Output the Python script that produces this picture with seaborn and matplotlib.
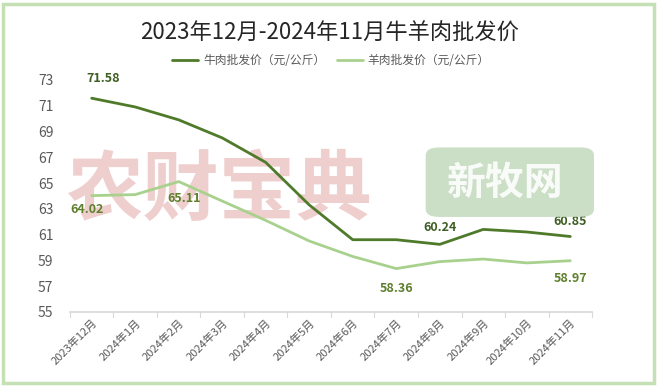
import matplotlib
matplotlib.use("Agg")
import matplotlib.pyplot as plt
from matplotlib.patches import FancyBboxPatch, Rectangle
import seaborn as sns
import pandas as pd

# data
months = ["2023年12月", "2024年1月", "2024年2月", "2024年3月", "2024年4月", "2024年5月",
          "2024年6月", "2024年7月", "2024年8月", "2024年9月", "2024年10月", "2024年11月"]
beef = [71.58, 70.9, 69.9, 68.5, 66.6, 63.3, 60.6, 60.6, 60.24, 61.4, 61.2, 60.85]
lamb = [64.02, 64.1, 65.11, 63.6, 62.1, 60.5, 59.3, 58.36, 58.9, 59.1, 58.8, 58.97]
beef_name = "牛肉批发价（元/公斤）"
lamb_name = "羊肉批发价（元/公斤）"

# labelled points: (index, dx_pt, dy_pt)
beef_labels = [(0, 8, 14), (8, 0, 12), (11, 0, 11)]
lamb_labels = [(0, -3, -10), (2, 4, -12), (7, 0, -14), (11, 0, -13)]

BEEF_C = "#4e7a2a"
LAMB_C = "#a9d18e"
BEEF_TXT = "#3d5f22"
LAMB_TXT = "#5e7f2c"

sns.set_theme(style="white")
plt.rcParams["font.family"] = ["Noto Sans CJK SC", "DejaVu Sans"]

df = pd.DataFrame({"月份": months * 2,
                   "价格": beef + lamb,
                   "品种": [beef_name] * len(months) + [lamb_name] * len(months)})

fig = plt.figure(figsize=(6.6, 3.86), dpi=100)
ax = fig.add_axes([0.106, 0.192, 0.791, 0.601])

# watermarks behind the data
ax.text(0.285, 0.52, "农财宝典", transform=ax.transAxes, fontsize=55, fontweight="bold",
        color="#d98c8c", alpha=0.42, ha="center", va="center", zorder=0)
fig.patches.append(FancyBboxPatch((0.65, 0.443), 0.245, 0.17,
                                  boxstyle="round,pad=0.005,rounding_size=0.02",
                                  transform=fig.transFigure, facecolor="#c6dbc0",
                                  edgecolor="none", alpha=0.9, zorder=0))
fig.text(0.765, 0.525, "新牧网", fontsize=28, fontweight="bold", color="white",
         ha="center", va="center", alpha=0.9)

sns.lineplot(data=df, x="月份", y="价格", hue="品种", palette=[BEEF_C, LAMB_C],
             linewidth=2, ax=ax, sort=False, zorder=3)

for i, dx, dy in beef_labels:
    ax.annotate(f"{beef[i]:.2f}", (i, beef[i]), xytext=(dx, dy), textcoords="offset points",
                ha="center", va="center", fontsize=9, fontweight="bold", color=BEEF_TXT, zorder=5)
for i, dx, dy in lamb_labels:
    ax.annotate(f"{lamb[i]:.2f}", (i, lamb[i]), xytext=(dx, dy), textcoords="offset points",
                ha="center", va="center", fontsize=9, fontweight="bold", color=LAMB_TXT, zorder=5)

ax.set_ylim(55, 73)
ax.set_yticks(range(55, 74, 2))
ax.set_xlim(-0.5, len(months) - 0.5)
ax.set_xlabel("")
ax.set_ylabel("")
for sp in ("top", "right", "left"):
    ax.spines[sp].set_visible(False)
ax.spines["bottom"].set_color("#d9d9d9")
ax.tick_params(axis="y", colors="#595959", labelsize=10, length=0, pad=12)
ax.set_xticks(range(len(months)))
ax.set_xticklabels(months, rotation=45, ha="right", rotation_mode="anchor",
                   fontsize=8, color="#595959")
ax.tick_params(axis="x", length=0, pad=4)
# category separator ticks
for k in range(len(months) + 1):
    ax.plot([k - 0.5, k - 0.5], [55, 54.6], color="#d9d9d9", lw=0.8, clip_on=False)

leg = ax.legend(loc="lower center", bbox_to_anchor=(0.5, 1.01), ncol=2, frameon=False,
                fontsize=8.5, handlelength=2.2, columnspacing=1.0, handletextpad=0.4)
for t in leg.get_texts():
    t.set_color("#595959")

fig.text(0.5, 0.915, "2023年12月-2024年11月牛羊肉批发价", ha="center", va="center",
         fontsize=16, color="#262626")

fig.patches.append(Rectangle((0.004, 0.008), 0.987, 0.982, transform=fig.transFigure,
                             fill=False, edgecolor="#c5e0b4", linewidth=2.5))

fig.savefig("out.png", dpi=100)
